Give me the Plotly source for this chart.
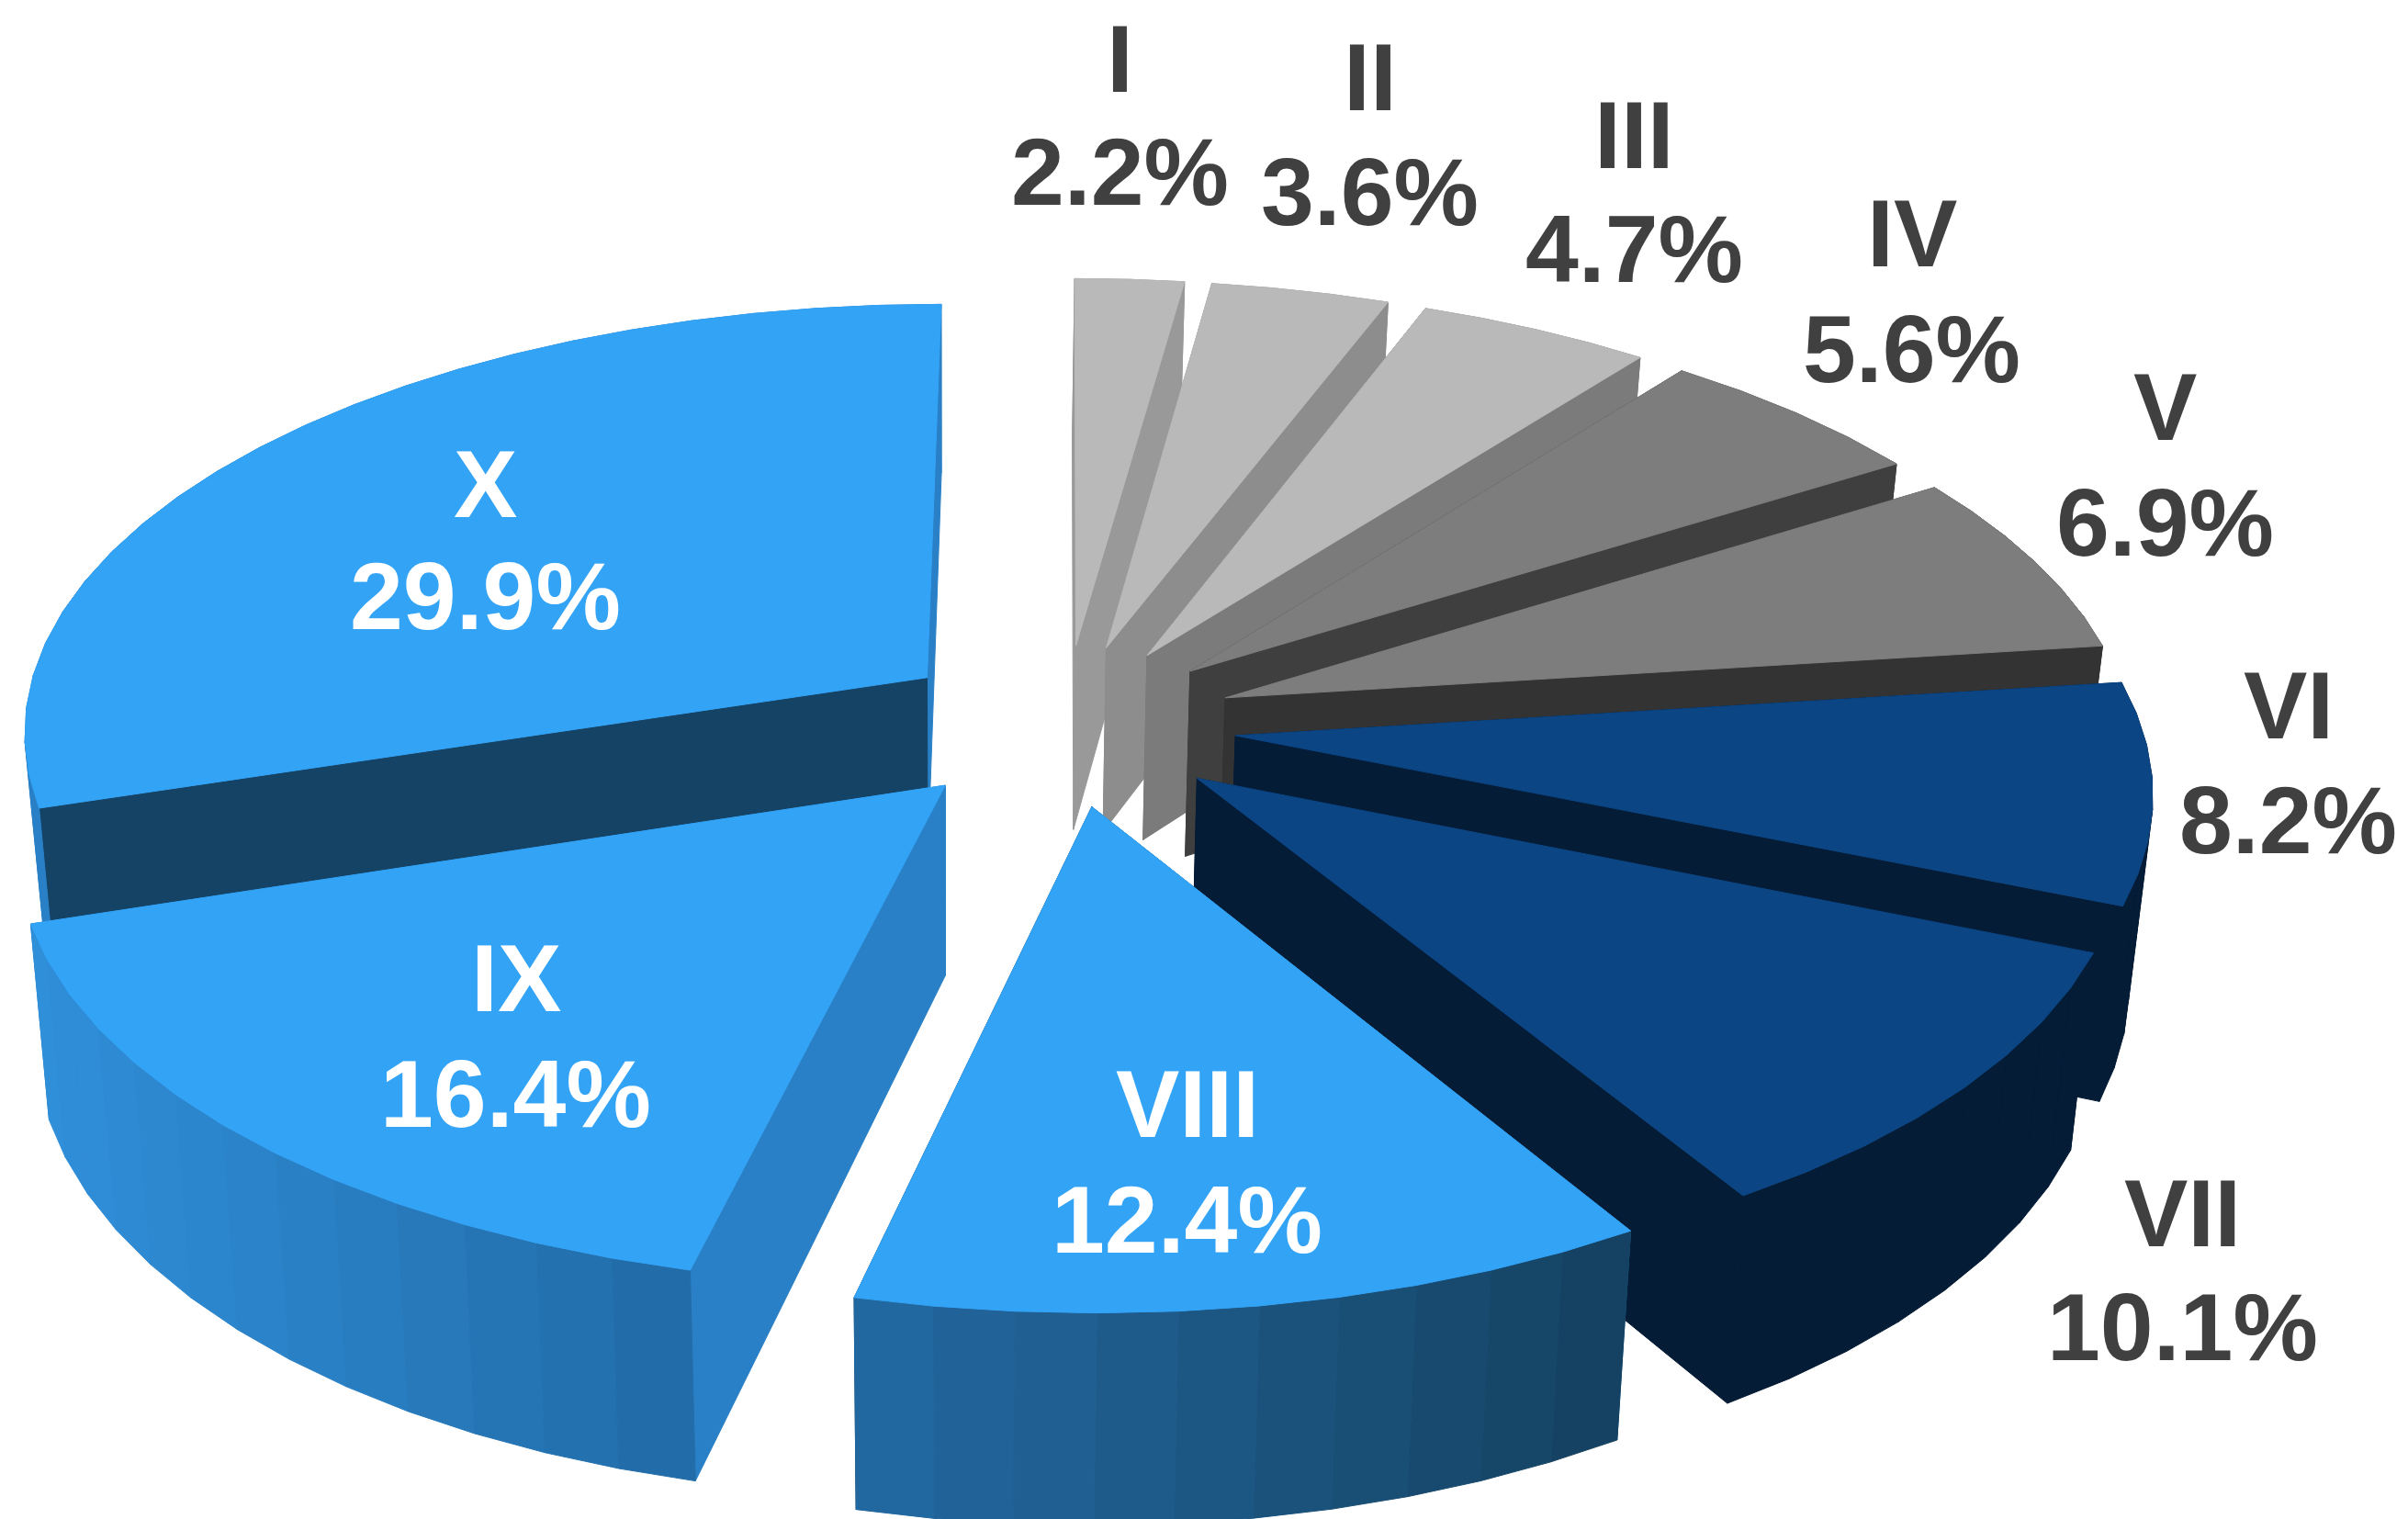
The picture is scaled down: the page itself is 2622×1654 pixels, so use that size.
import math
import plotly.graph_objects as go

# ---- data ----
categories = ["I", "II", "III", "IV", "V", "VI", "VII", "VIII", "IX", "X"]
percent = [2.2, 3.6, 4.7, 5.6, 6.9, 8.2, 10.1, 12.4, 16.4, 29.9]

# ---- styles ----
top_colors = ["#B9B9B9", "#B9B9B9", "#B9B9B9", "#7D7D7D", "#7D7D7D",
              "#0C4584", "#0C4584", "#33A3F6", "#33A3F6", "#33A3F6"]
start_wall = ["#999999", "#8D8D8D", "#7B7B7B", "#3F3F3F", "#333333",
              "#051C36", "#051C36", "#236AA3", "#2A80C6", "#144365"]
end_wall = ["#999999", "#8D8D8D", "#7B7B7B", "#3F3F3F", "#333333",
            "#051C36", "#051C36", "#14405F", "#2A80C6", "#2A80C6"]
rim_left = ["#999999", "#8D8D8D", "#7B7B7B", "#3F3F3F", "#333333",
            "#051C36", "#051C36", "#236AA3", "#308FDA", "#2A80C6"]
rim_right = ["#999999", "#8D8D8D", "#7B7B7B", "#3F3F3F", "#333333",
             "#051C36", "#051C36", "#14405F", "#216BA6", "#2A80C6"]
text_colors = ["#404040"] * 7 + ["#FFFFFF"] * 3
draw_order = [0, 1, 2, 3, 4, 5, 6, 9, 8, 7]

name_xy = [(729, 38), (892, 50), (1064, 88), (1245, 152), (1410, 265),
           (1490, 459), (1421, 790), (773, 719), (336, 637), (316, 315)]
pct_xy = [(729, 112), (892, 125), (1064, 162), (1245, 227), (1410, 340),
          (1490, 534), (1421, 864), (773, 794), (336, 712), (316, 388)]

# ---- view of the tilted pie (axis units = reference px / 1.672) ----
W, H = 2622, 1654
AX_W, AX_H = 1568.0, 989.1
CX, CY, A, B, K, PULL = 693.0, 472.0, 590.0, 278.0, 0.116, 0.19
DEPTH, DEPTH_K, VX, SHRINK = 122.0, 0.10, 620.0, 0.98
FONT = 104
STEP = 4.5


def top_pt(px, py, ang=None):
    x, y = px, py
    if ang is not None:
        x += math.sin(ang)
        y += math.cos(ang)
    d = 1 + K * y
    return (CX + A * x / d, CY - B * y / d, y)


def low_pt(p):
    X, Y, y = p
    return (VX + (X - VX) * SHRINK, Y + DEPTH / (1 + DEPTH_K * y))


def hexmix(c1, c2, t):
    a = [int(c1[i:i + 2], 16) for i in (1, 3, 5)]
    b = [int(c2[i:i + 2], 16) for i in (1, 3, 5)]
    return "#%02X%02X%02X" % tuple(round(u + (v - u) * t) for u, v in zip(a, b))


def poly(points, color):
    xs = [p[0] for p in points] + [points[0][0]]
    ys = [p[1] for p in points] + [points[0][1]]
    return go.Scatter(x=xs, y=ys, mode="lines", fill="toself", fillcolor=color,
                      line=dict(color=color, width=1), hoverinfo="skip",
                      showlegend=False)


fig = go.Figure()
total = sum(percent)
edges = [0.0]
for v in percent:
    edges.append(edges[-1] + v / total * 2 * math.pi)

for i in draw_order:
    a0, a1 = edges[i], edges[i + 1]
    mid = (a0 + a1) / 2
    px, py = PULL * math.sin(mid), PULL * math.cos(mid)
    n = max(2, int(round(math.degrees(a1 - a0) / STEP)))
    angs = [a0 + (a1 - a0) * j / n for j in range(n + 1)]
    apex = top_pt(px, py)
    rim = [top_pt(px, py, a) for a in angs]
    xmin = min(p[0] for p in rim)
    xmax = max(p[0] for p in rim)
    walls = []
    for j in range(n):
        p, q = rim[j], rim[j + 1]
        t = ((p[0] + q[0]) / 2 - xmin) / max(1e-6, xmax - xmin)
        walls.append(((p[1] + q[1]) / 2,
                      [p[:2], q[:2], low_pt(q), low_pt(p)],
                      hexmix(rim_left[i], rim_right[i], t)))
    for edge, col in ((rim[0], start_wall[i]), (rim[-1], end_wall[i])):
        walls.append(((edge[1] + apex[1]) / 2,
                      [apex[:2], edge[:2], low_pt(edge), low_pt(apex)], col))
    for _, pts, col in sorted(walls, key=lambda w: w[0]):
        fig.add_trace(poly(pts, col))
    fig.add_trace(poly([apex[:2]] + [p[:2] for p in rim], top_colors[i]))

for i, cat in enumerate(categories):
    for (x, y), txt in ((name_xy[i], cat), (pct_xy[i], f"{percent[i]:.1f}%")):
        fig.add_annotation(x=x, y=y, text=f"<b>{txt}</b>", showarrow=False,
                           xanchor="center", yanchor="middle",
                           font=dict(family="Liberation Sans", size=FONT,
                                     color=text_colors[i]))

fig.update_layout(width=W, height=H, margin=dict(l=0, r=0, t=0, b=0),
                  paper_bgcolor="white", plot_bgcolor="white",
                  xaxis=dict(range=[0, AX_W], visible=False, fixedrange=True),
                  yaxis=dict(range=[AX_H, 0], visible=False, fixedrange=True))
fig.write_html("out.html", config={"displayModeBar": False},
               post_script="document.body.style.margin='0';document.documentElement.style.overflow='hidden';")
